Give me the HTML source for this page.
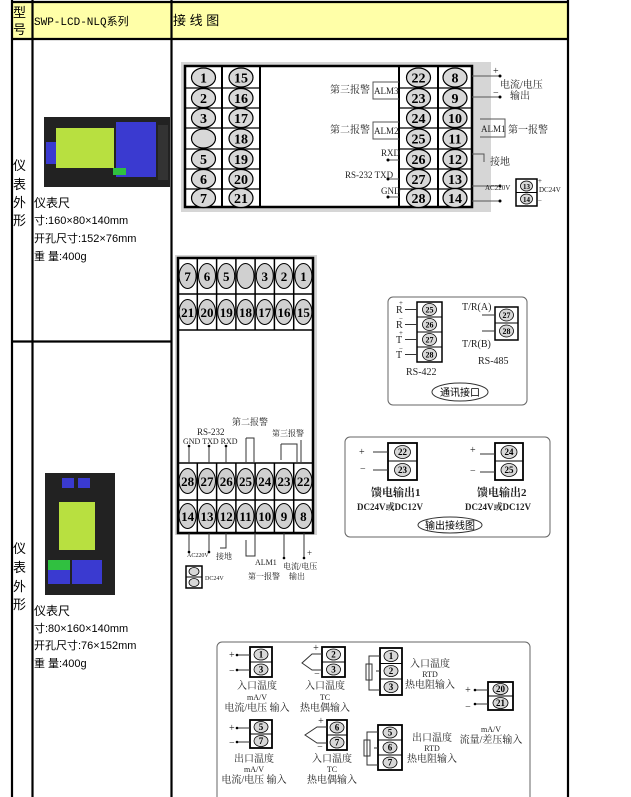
<!DOCTYPE html>
<html><head><meta charset="utf-8"><style>
body{margin:0;background:#fff;width:631px;height:797px;overflow:hidden;font-family:"Liberation Sans","Noto Sans CJK SC",sans-serif}
svg{position:absolute;left:0;top:0}
.n{font-family:"Liberation Serif",serif;font-weight:bold;text-anchor:middle}
.t{font-family:"Liberation Serif","Noto Serif CJK SC",serif;font-size:10px}
.c{font-family:"Liberation Mono","Noto Sans CJK SC",monospace}
</style></head><body>
<svg width="631" height="797" viewBox="0 0 631 797" xmlns="http://www.w3.org/2000/svg">
<!-- table -->
<rect x="12" y="2" width="556" height="37" fill="#ffffa8"/>
<g stroke="#000" stroke-width="2.2" fill="none">
<line x1="12" y1="0" x2="12" y2="797"/><line x1="32.5" y1="0" x2="32.5" y2="797"/><line x1="171.5" y1="0" x2="171.5" y2="797"/><line x1="568" y1="0" x2="568" y2="797"/>
<line x1="11" y1="2" x2="569" y2="2"/><line x1="11" y1="39" x2="569" y2="39"/><line x1="11" y1="341.5" x2="172" y2="341.5"/>
</g>
<g font-size="12" fill="#000">
<text x="13" y="17" font-size="13">型</text><text x="13" y="34" font-size="13">号</text>
<text x="34" y="25" class="c" font-size="11">SWP-LCD-NLQ系列</text>
<text x="173" y="25" font-size="13">接 线 图</text>
<text x="13" y="170" font-size="13">仪</text><text x="13" y="189" font-size="13">表</text><text x="13" y="207" font-size="13">外</text><text x="13" y="225" font-size="13">形</text>
<text x="34" y="207" font-size="12">仪表尺</text>
<text x="34" y="224" font-size="11">寸:160×80×140mm</text>
<text x="34" y="242" font-size="11">开孔尺寸:152×76mm</text>
<text x="34" y="260" font-size="11">重 量:400g</text>
<text x="13" y="553" font-size="13">仪</text><text x="13" y="572" font-size="13">表</text><text x="13" y="591" font-size="13">外</text><text x="13" y="609" font-size="13">形</text>
<text x="34" y="615" font-size="12">仪表尺</text>
<text x="34" y="632" font-size="11">寸:80×160×140mm</text>
<text x="34" y="649" font-size="11">开孔尺寸:76×152mm</text>
<text x="34" y="667" font-size="11">重 量:400g</text>
</g>
<!-- meter 1 -->
<rect x="44" y="117" width="126" height="70" fill="#222"/>
<rect x="56" y="128" width="58" height="40" fill="#b8e040"/>
<rect x="46" y="142" width="10" height="22" fill="#3a3ad0"/>
<rect x="116" y="122" width="40" height="55" fill="#3a3ad0"/>
<rect x="113" y="168" width="13" height="7" fill="#30c040"/>
<rect x="158" y="125" width="10" height="55" fill="#333"/>
<!-- meter 2 -->
<rect x="45" y="473" width="70" height="122" fill="#222"/>
<rect x="59" y="502" width="36" height="48" fill="#b8e040"/>
<rect x="62" y="478" width="12" height="10" fill="#3a3ad0"/><rect x="78" y="478" width="12" height="10" fill="#3a3ad0"/>
<rect x="48" y="560" width="22" height="10" fill="#30c040"/>
<rect x="48" y="570" width="22" height="14" fill="#3a3ad0"/>
<rect x="72" y="560" width="30" height="24" fill="#3a3ad0"/>

<!-- top diagram -->
<rect x="181" y="62" width="310" height="150" fill="#d6d6d6"/>
<rect x="185" y="66" width="287" height="141" fill="#fff" stroke="#000" stroke-width="2.5"/>
<g stroke="#000" stroke-width="2" fill="none">
<line x1="222" y1="66" x2="222" y2="207"/><line x1="260" y1="66" x2="260" y2="207"/><line x1="399" y1="66" x2="399" y2="207"/><line x1="438" y1="66" x2="438" y2="207"/>
</g>
<g stroke="#000" stroke-width="1.2">
<path d="M185 88H260M185 108H260M185 128H260M185 149H260M185 169H260M185 189H260M399 88H472M399 108H472M399 128H472M399 149H472M399 169H472M399 189H472"/>
</g>
<g fill="#d8d8d8" stroke="#000" stroke-width="1.2">
<ellipse cx="203.5" cy="77.5" rx="12" ry="9.5"/><ellipse cx="203.5" cy="98" rx="12" ry="9.5"/><ellipse cx="203.5" cy="118" rx="12" ry="9.5"/><ellipse cx="203.5" cy="138.5" rx="12" ry="9.5"/><ellipse cx="203.5" cy="159" rx="12" ry="9.5"/><ellipse cx="203.5" cy="179" rx="12" ry="9.5"/><ellipse cx="203.5" cy="198" rx="12" ry="9.5"/>
<ellipse cx="241" cy="77.5" rx="12" ry="9.5"/><ellipse cx="241" cy="98" rx="12" ry="9.5"/><ellipse cx="241" cy="118" rx="12" ry="9.5"/><ellipse cx="241" cy="138.5" rx="12" ry="9.5"/><ellipse cx="241" cy="159" rx="12" ry="9.5"/><ellipse cx="241" cy="179" rx="12" ry="9.5"/><ellipse cx="241" cy="198" rx="12" ry="9.5"/>
<ellipse cx="418.5" cy="77.5" rx="12" ry="9.5"/><ellipse cx="418.5" cy="98" rx="12" ry="9.5"/><ellipse cx="418.5" cy="118" rx="12" ry="9.5"/><ellipse cx="418.5" cy="138.5" rx="12" ry="9.5"/><ellipse cx="418.5" cy="159" rx="12" ry="9.5"/><ellipse cx="418.5" cy="179" rx="12" ry="9.5"/><ellipse cx="418.5" cy="198" rx="12" ry="9.5"/>
<ellipse cx="455" cy="77.5" rx="12" ry="9.5"/><ellipse cx="455" cy="98" rx="12" ry="9.5"/><ellipse cx="455" cy="118" rx="12" ry="9.5"/><ellipse cx="455" cy="138.5" rx="12" ry="9.5"/><ellipse cx="455" cy="159" rx="12" ry="9.5"/><ellipse cx="455" cy="179" rx="12" ry="9.5"/><ellipse cx="455" cy="198" rx="12" ry="9.5"/>
</g>
<g class="n" font-size="14">
<text x="203.5" y="82.5" class="n">1</text><text x="203.5" y="103" class="n">2</text><text x="203.5" y="123" class="n">3</text><text x="203.5" y="164" class="n">5</text><text x="203.5" y="184" class="n">6</text><text x="203.5" y="203" class="n">7</text>
<text x="241" y="82.5" class="n">15</text><text x="241" y="103" class="n">16</text><text x="241" y="123" class="n">17</text><text x="241" y="143.5" class="n">18</text><text x="241" y="164" class="n">19</text><text x="241" y="184" class="n">20</text><text x="241" y="203" class="n">21</text>
<text x="418.5" y="82.5" class="n">22</text><text x="418.5" y="103" class="n">23</text><text x="418.5" y="123" class="n">24</text><text x="418.5" y="143.5" class="n">25</text><text x="418.5" y="164" class="n">26</text><text x="418.5" y="184" class="n">27</text><text x="418.5" y="203" class="n">28</text>
<text x="455" y="82.5" class="n">8</text><text x="455" y="103" class="n">9</text><text x="455" y="123" class="n">10</text><text x="455" y="143.5" class="n">11</text><text x="455" y="164" class="n">12</text><text x="455" y="184" class="n">13</text><text x="455" y="203" class="n">14</text>
</g>
<g stroke="#555" stroke-width="1" fill="none">
<path d="M399 82H373V99H399M399 122H373V139H399"/>
<path d="M480 119H505V137H480"/>
<path d="M472 76H500M472 97H500M472 186H500M472 201H500M472 154H484V162"/>
<path d="M388 160H399M388 179H399M388 197H399"/>
</g>
<g fill="#000"><circle cx="500" cy="76" r="1.5"/><circle cx="500" cy="97" r="1.5"/><circle cx="500" cy="186" r="1.5"/><circle cx="500" cy="201" r="1.5"/><circle cx="388" cy="160" r="1.5"/><circle cx="388" cy="179" r="1.5"/><circle cx="388" cy="197" r="1.5"/></g>
<g class="t" fill="#222">
<text x="330" y="93">第三报警</text><text x="374" y="94" font-size="9">ALM3</text>
<text x="330" y="133">第二报警</text><text x="374" y="134" font-size="9">ALM2</text>
<text x="481" y="132" font-size="9">ALM1</text><text x="508" y="133">第一报警</text>
<text x="381" y="156" font-size="9">RXD</text><text x="345" y="178" font-size="9">RS-232 TXD</text><text x="381" y="194" font-size="9">GND</text>
<text x="493" y="74">+</text><text x="493" y="96">−</text>
<text x="500" y="88">电流/电压</text><text x="510" y="99">输出</text>
<text x="490" y="165">接地</text>
<text x="485" y="190" font-size="7">AC220V</text>
<text x="539" y="192" font-size="7">DC24V</text><text x="538" y="183" font-size="7">+</text><text x="538" y="203" font-size="7">−</text>
</g>
<rect x="516" y="179" width="21" height="27" fill="#fff" stroke="#000" stroke-width="1.5"/>
<line x1="516" y1="192.5" x2="537" y2="192.5" stroke="#000"/>
<g fill="#d8d8d8" stroke="#000" stroke-width=".8"><ellipse cx="526.5" cy="186" rx="6" ry="5"/><ellipse cx="526.5" cy="199" rx="6" ry="5"/></g>
<text x="526.5" y="189" class="n" font-size="7">13</text><text x="526.5" y="202" class="n" font-size="7">14</text>

<!-- vertical diagram -->
<rect x="175" y="255" width="142" height="280" fill="#d6d6d6"/>
<rect x="178" y="258" width="135" height="275" fill="#fff" stroke="#000" stroke-width="2.5"/>
<g stroke="#000" stroke-width="1.5">
<path d="M178 294H313M178 330H313M178 463H313M178 500H313"/>
<path d="M197.3 258V330M216.6 258V330M235.9 258V330M255.1 258V330M274.4 258V330M293.7 258V330M197.3 463V533M216.6 463V533M235.9 463V533M255.1 463V533M274.4 463V533M293.7 463V533"/>
</g>
<g fill="#d0d0d0" stroke="#000" stroke-width="1">
<ellipse cx="187.6" cy="276" rx="8.5" ry="12.5"/><ellipse cx="207" cy="276" rx="8.5" ry="12.5"/><ellipse cx="226.2" cy="276" rx="8.5" ry="12.5"/><ellipse cx="245.5" cy="276" rx="8.5" ry="12.5"/><ellipse cx="264.8" cy="276" rx="8.5" ry="12.5"/><ellipse cx="284" cy="276" rx="8.5" ry="12.5"/><ellipse cx="303.4" cy="276" rx="8.5" ry="12.5"/>
<ellipse cx="187.6" cy="312" rx="8.5" ry="12.5"/><ellipse cx="207" cy="312" rx="8.5" ry="12.5"/><ellipse cx="226.2" cy="312" rx="8.5" ry="12.5"/><ellipse cx="245.5" cy="312" rx="8.5" ry="12.5"/><ellipse cx="264.8" cy="312" rx="8.5" ry="12.5"/><ellipse cx="284" cy="312" rx="8.5" ry="12.5"/><ellipse cx="303.4" cy="312" rx="8.5" ry="12.5"/>
<ellipse cx="187.6" cy="481" rx="8.5" ry="12.5"/><ellipse cx="207" cy="481" rx="8.5" ry="12.5"/><ellipse cx="226.2" cy="481" rx="8.5" ry="12.5"/><ellipse cx="245.5" cy="481" rx="8.5" ry="12.5"/><ellipse cx="264.8" cy="481" rx="8.5" ry="12.5"/><ellipse cx="284" cy="481" rx="8.5" ry="12.5"/><ellipse cx="303.4" cy="481" rx="8.5" ry="12.5"/>
<ellipse cx="187.6" cy="516" rx="8.5" ry="12.5"/><ellipse cx="207" cy="516" rx="8.5" ry="12.5"/><ellipse cx="226.2" cy="516" rx="8.5" ry="12.5"/><ellipse cx="245.5" cy="516" rx="8.5" ry="12.5"/><ellipse cx="264.8" cy="516" rx="8.5" ry="12.5"/><ellipse cx="284" cy="516" rx="8.5" ry="12.5"/><ellipse cx="303.4" cy="516" rx="8.5" ry="12.5"/>
</g>
<g class="n" font-size="13">
<text x="187.6" y="281">7</text><text x="207" y="281">6</text><text x="226.2" y="281">5</text><text x="264.8" y="281">3</text><text x="284" y="281">2</text><text x="303.4" y="281">1</text>
<text x="187.6" y="317">21</text><text x="207" y="317">20</text><text x="226.2" y="317">19</text><text x="245.5" y="317">18</text><text x="264.8" y="317">17</text><text x="284" y="317">16</text><text x="303.4" y="317">15</text>
<text x="187.6" y="486">28</text><text x="207" y="486">27</text><text x="226.2" y="486">26</text><text x="245.5" y="486">25</text><text x="264.8" y="486">24</text><text x="284" y="486">23</text><text x="303.4" y="486">22</text>
<text x="187.6" y="521">14</text><text x="207" y="521">13</text><text x="226.2" y="521">12</text><text x="245.5" y="521">11</text><text x="264.8" y="521">10</text><text x="284" y="521">9</text><text x="303.4" y="521">8</text>
</g>
<g stroke="#333" stroke-width="1" fill="none">
<path d="M189 446V463M209 446V463M226 446V463"/>
<path d="M246 438H254V462M246 438V462"/>
<path d="M281 444H297V462M281 444V460M301 440V462"/>
<path d="M189 533V552M209 533V552M226 533V548H220M246 540V556H255V533M284 533V558M304 533V558"/>
</g>
<g fill="#000"><circle cx="189" cy="446" r="1.3"/><circle cx="209" cy="446" r="1.3"/><circle cx="226" cy="446" r="1.3"/><circle cx="189" cy="552" r="1.3"/><circle cx="209" cy="552" r="1.3"/><circle cx="284" cy="558" r="1.3"/><circle cx="304" cy="558" r="1.3"/></g>
<g class="t" fill="#222">
<text x="232" y="425" font-size="9">第二报警</text>
<text x="197" y="435" font-size="9">RS-232</text>
<text x="272" y="436" font-size="8">第三报警</text>
<text x="183" y="444" font-size="8">GND TXD RXD</text>
<text x="187" y="557" font-size="6">AC220V</text>
<text x="216" y="559" font-size="8">接地</text>
<text x="255" y="565" font-size="8">ALM1</text>
<text x="248" y="579" font-size="8">第一报警</text>
<text x="283" y="569" font-size="8">电流/电压</text>
<text x="289" y="579" font-size="8">输出</text>
<text x="307" y="556" font-size="9">+</text>
<text x="205" y="580" font-size="6">DC24V</text>
</g>
<rect x="186" y="566" width="16" height="22" fill="#fff" stroke="#000" stroke-width="1.5"/>
<line x1="186" y1="577" x2="202" y2="577" stroke="#000"/>
<g fill="#d8d8d8" stroke="#000" stroke-width=".8"><ellipse cx="194" cy="571.5" rx="5" ry="4"/><ellipse cx="194" cy="582.5" rx="5" ry="4"/></g>

<!-- RS box -->
<rect x="388" y="297" width="139" height="108" rx="5" fill="#fff" stroke="#666"/>
<rect x="417" y="302" width="25" height="60" fill="#fff" stroke="#000" stroke-width="1.5"/>
<path d="M417 317H442M417 332H442M417 347H442" stroke="#000"/>
<rect x="495" y="307" width="23" height="33" fill="#fff" stroke="#000" stroke-width="1.5"/>
<path d="M495 323H518" stroke="#000"/>
<g fill="#d8d8d8" stroke="#000" stroke-width=".8">
<ellipse cx="429.5" cy="309.5" rx="7" ry="6"/><ellipse cx="429.5" cy="324.5" rx="7" ry="6"/><ellipse cx="429.5" cy="339.5" rx="7" ry="6"/><ellipse cx="429.5" cy="354.5" rx="7" ry="6"/>
<ellipse cx="506.5" cy="315" rx="7" ry="6"/><ellipse cx="506.5" cy="331" rx="7" ry="6"/></g>
<g class="n" font-size="8"><text x="429.5" y="312.5">25</text><text x="429.5" y="327.5">26</text><text x="429.5" y="342.5">27</text><text x="429.5" y="357.5">28</text><text x="506.5" y="318">27</text><text x="506.5" y="334">28</text></g>
<path d="M405 309.5H417M405 324.5H417M405 339.5H417M405 354.5H417M482 315H495M482 331H495" stroke="#333"/>
<g class="t" fill="#222" font-size="9">
<text x="396" y="313">R</text><text x="399" y="305" font-size="7">+</text>
<text x="396" y="328">R</text><text x="399" y="321" font-size="7">−</text>
<text x="396" y="343">T</text><text x="399" y="335" font-size="7">+</text>
<text x="396" y="358">T</text><text x="399" y="351" font-size="7">−</text>
<text x="406" y="375">RS-422</text>
<text x="462" y="310">T/R(A)</text><text x="462" y="347">T/R(B)</text>
<text x="478" y="364">RS-485</text>
</g>
<ellipse cx="460" cy="392" rx="28" ry="9" fill="#fff" stroke="#333"/>
<text x="460" y="396" text-anchor="middle" font-size="10" fill="#000">通讯接口</text>

<!-- output box -->
<rect x="345" y="437" width="205" height="100" rx="5" fill="#fff" stroke="#666"/>
<rect x="388" y="443" width="29" height="37" fill="#fff" stroke="#000" stroke-width="1.8"/><path d="M388 461H417" stroke="#000"/>
<rect x="495" y="443" width="28" height="37" fill="#fff" stroke="#000" stroke-width="1.8"/><path d="M495 461H523" stroke="#000"/>
<g fill="#d8d8d8" stroke="#000" stroke-width=".8"><ellipse cx="402.5" cy="452" rx="8" ry="6.5"/><ellipse cx="402.5" cy="470" rx="8" ry="6.5"/><ellipse cx="509" cy="452" rx="8" ry="6.5"/><ellipse cx="509" cy="470" rx="8" ry="6.5"/></g>
<g class="n" font-size="9"><text x="402.5" y="455">22</text><text x="402.5" y="473">23</text><text x="509" y="455">24</text><text x="509" y="473">25</text></g>
<path d="M373 452H388M373 470H388M480 454H495M480 472H495" stroke="#333"/>
<g class="t" fill="#222" font-size="11">
<text x="359" y="455">+</text><text x="360" y="472">−</text><text x="470" y="453">+</text><text x="470" y="474">−</text>
<text x="371" y="496" font-size="11" font-weight="bold">馈电输出1</text>
<text x="357" y="510" font-size="9" font-weight="bold">DC24V或DC12V</text>
<text x="477" y="496" font-size="11" font-weight="bold">馈电输出2</text>
<text x="465" y="510" font-size="9" font-weight="bold">DC24V或DC12V</text>
</g>
<ellipse cx="450" cy="525" rx="32" ry="8" fill="#fff" stroke="#333"/>
<text x="450" y="529" text-anchor="middle" font-size="10" fill="#000">输出接线图</text>

<!-- bottom box -->
<rect x="217" y="642" width="313" height="160" rx="5" fill="#fff" stroke="#666"/>
<g fill="#fff" stroke="#000" stroke-width="1.8">
<rect x="250" y="647" width="22" height="30"/><rect x="322" y="647" width="23" height="30"/><rect x="380" y="648" width="22" height="47"/><rect x="488" y="682" width="25" height="28"/>
<rect x="250" y="720" width="22" height="28"/><rect x="327" y="720" width="20" height="30"/><rect x="378" y="725" width="24" height="45"/>
</g>
<path d="M250 662H272M322 662H345M380 663.5H402M380 679H402M488 696H513M250 734H272M327 735H347M378 740H402M378 755H402" stroke="#000"/>
<g fill="#d8d8d8" stroke="#000" stroke-width=".8">
<ellipse cx="261" cy="654.5" rx="7" ry="5.5"/><ellipse cx="261" cy="669.5" rx="7" ry="5.5"/>
<ellipse cx="333.5" cy="654.5" rx="7" ry="5.5"/><ellipse cx="333.5" cy="669.5" rx="7" ry="5.5"/>
<ellipse cx="391" cy="656" rx="7" ry="5.5"/><ellipse cx="391" cy="671" rx="7" ry="5.5"/><ellipse cx="391" cy="687" rx="7" ry="5.5"/>
<ellipse cx="500.5" cy="689" rx="7.5" ry="5.5"/><ellipse cx="500.5" cy="703" rx="7.5" ry="5.5"/>
<ellipse cx="261" cy="727" rx="7" ry="5.5"/><ellipse cx="261" cy="741" rx="7" ry="5.5"/>
<ellipse cx="337" cy="727.5" rx="7" ry="5.5"/><ellipse cx="337" cy="742.5" rx="7" ry="5.5"/>
<ellipse cx="390" cy="732.5" rx="7" ry="5.5"/><ellipse cx="390" cy="747.5" rx="7" ry="5.5"/><ellipse cx="390" cy="762.5" rx="7" ry="5.5"/>
</g>
<g class="n" font-size="9">
<text x="261" y="657.5">1</text><text x="261" y="672.5">3</text><text x="333.5" y="657.5">2</text><text x="333.5" y="672.5">3</text>
<text x="391" y="659">1</text><text x="391" y="674">2</text><text x="391" y="690">3</text>
<text x="500.5" y="692">20</text><text x="500.5" y="706">21</text>
<text x="261" y="730">5</text><text x="261" y="744">7</text><text x="337" y="730.5">6</text><text x="337" y="745.5">7</text>
<text x="390" y="735.5">5</text><text x="390" y="750.5">6</text><text x="390" y="765.5">7</text>
</g>
<g stroke="#333" stroke-width="1" fill="none">
<path d="M237 655H250M237 670H250M237 728H250M237 742H250M475 690H488M475 704H488"/>
<path d="M322 654H312L302 663L312 670H322M327 727H317L305 735L317 743H327"/>
<path d="M380 656H369V690H380M380 671H376M378 732H367V765H378M378 748H374"/>
<rect x="366" y="664" width="6" height="16"/><rect x="364" y="740" width="6" height="16"/>
</g>
<g fill="#000"><circle cx="237" cy="655" r="1.3"/><circle cx="237" cy="670" r="1.3"/><circle cx="237" cy="728" r="1.3"/><circle cx="237" cy="742" r="1.3"/><circle cx="475" cy="690" r="1.3"/><circle cx="475" cy="704" r="1.3"/></g>
<g class="t" fill="#222" font-size="9" text-anchor="middle">
<text x="229" y="658" text-anchor="start">+</text><text x="229" y="674" text-anchor="start">−</text>
<text x="229" y="731" text-anchor="start">+</text><text x="229" y="746" text-anchor="start">−</text>
<text x="316" y="651">+</text><text x="317" y="677">−</text><text x="321" y="724">+</text><text x="320" y="750">−</text>
<text x="468" y="693">+</text><text x="468" y="710">−</text>
<text x="257" y="689" font-size="10">入口温度</text><text x="257" y="700" font-size="8">mA/V</text><text x="257" y="711" font-size="10">电流/电压 输入</text>
<text x="325" y="689" font-size="10">入口温度</text><text x="325" y="700" font-size="8">TC</text><text x="325" y="711" font-size="10">热电偶输入</text>
<text x="430" y="667" font-size="10">入口温度</text><text x="430" y="677" font-size="8">RTD</text><text x="430" y="688" font-size="10">热电阻输入</text>
<text x="491" y="732" font-size="8">mA/V</text><text x="491" y="743" font-size="10">流量/差压输入</text>
<text x="254" y="762" font-size="10">出口温度</text><text x="254" y="772" font-size="8">mA/V</text><text x="254" y="783" font-size="10">电流/电压 输入</text>
<text x="332" y="762" font-size="10">入口温度</text><text x="332" y="772" font-size="8">TC</text><text x="332" y="783" font-size="10">热电偶输入</text>
<text x="432" y="741" font-size="10">出口温度</text><text x="432" y="751" font-size="8">RTD</text><text x="432" y="762" font-size="10">热电阻输入</text>
</g>
</svg>
</body></html>
